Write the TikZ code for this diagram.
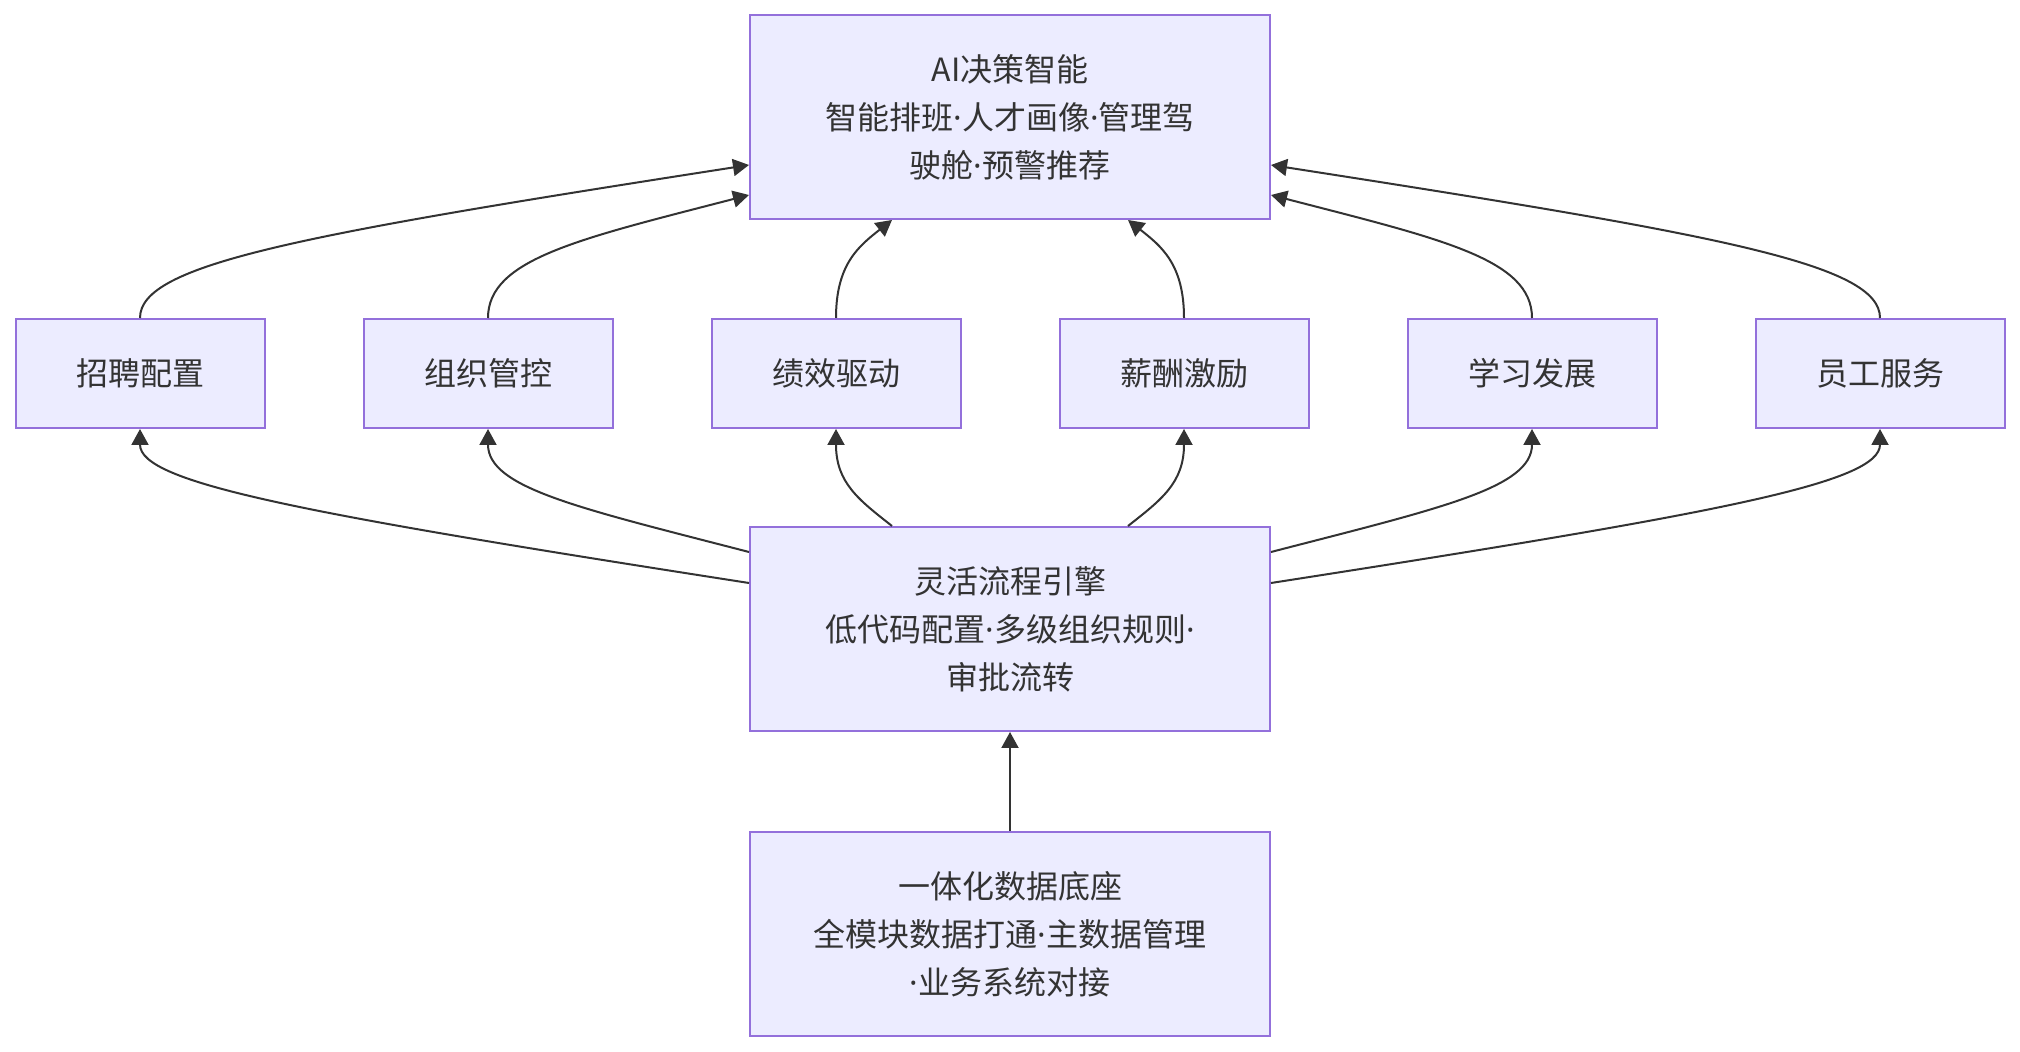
\documentclass[tikz,border=0pt]{standalone}
\usepackage{fontspec}
\setmainfont{Noto Sans CJK SC}
\newfontfamily\dotfont{Noto Sans}
\newcommand{\sepdot}{{\dotfont ·}}
\usetikzlibrary{arrows.meta}
\definecolor{boxfill}{HTML}{ECECFF}
\definecolor{boxline}{HTML}{9370DB}
\definecolor{ink}{HTML}{333333}
\begin{document}
\begin{tikzpicture}[x=0.5pt,y=-0.5pt,
    layer/.style={draw=boxline,fill=boxfill,line width=1pt,text=ink,align=center,inner sep=0pt,
      minimum width=260pt,minimum height=102pt,font=\fontsize{16}{24}\selectfont},
    module/.style={layer,minimum width=124.5pt,minimum height=54.5pt},
    link/.style={draw=ink,line width=1pt,-{Triangle[length=8pt,width=8.5pt]}}]
  \useasboundingbox (0,0) rectangle (2020,1052);
  \node[layer] (ai) at (1010,117) {AI决策智能\\智能排班\sepdot 人才画像\sepdot 管理驾\\驶舱\sepdot 预警推荐};
  \node[module] (hr) at (140,373.5) {招聘配置};
  \node[module] (org) at (488,373.5) {组织管控};
  \node[module] (perf) at (836,373.5) {绩效驱动};
  \node[module] (pay) at (1184,373.5) {薪酬激励};
  \node[module] (learn) at (1532,373.5) {学习发展};
  \node[module] (serv) at (1880,373.5) {员工服务};
  \node[layer] (flow) at (1010,629) {灵活流程引擎\\低代码配置\sepdot 多级组织规则\sepdot\\审批流转};
  \node[layer] (base) at (1010,934) {一体化数据底座\\全模块数据打通\sepdot 主数据管理\\\sepdot 业务系统对接};
  \draw[link] (hr.north) .. controls +(0,-54) and +(-450,70) .. ([yshift=-24pt]ai.west);
  \draw[link] (org.north) .. controls +(0,-59) and +(-170,44) .. ([yshift=-39pt]ai.west);
  \draw[link] (perf.north) .. controls +(0,-54) and +(-33,26) .. ([xshift=-59pt]ai.south);
  \draw[link] (pay.north) .. controls +(0,-54) and +(33,26) .. ([xshift=59pt]ai.south);
  \draw[link] (learn.north) .. controls +(0,-59) and +(170,44) .. ([yshift=-39pt]ai.east);
  \draw[link] (serv.north) .. controls +(0,-54) and +(450,70) .. ([yshift=-24pt]ai.east);
  \draw[link] ([yshift=23pt]flow.west) .. controls +(-450,-70) and +(0,54) .. (hr.south);
  \draw[link] ([yshift=38.5pt]flow.west) .. controls +(-170,-44) and +(0,59) .. (org.south);
  \draw[link] ([xshift=-59pt]flow.north) .. controls +(-33,-26) and +(0,54) .. (perf.south);
  \draw[link] ([xshift=59pt]flow.north) .. controls +(33,-26) and +(0,54) .. (pay.south);
  \draw[link] ([yshift=38.5pt]flow.east) .. controls +(170,-44) and +(0,59) .. (learn.south);
  \draw[link] ([yshift=23pt]flow.east) .. controls +(450,-70) and +(0,54) .. (serv.south);
  \draw[link] (base.north) -- (flow.south);
\end{tikzpicture}
\end{document}
